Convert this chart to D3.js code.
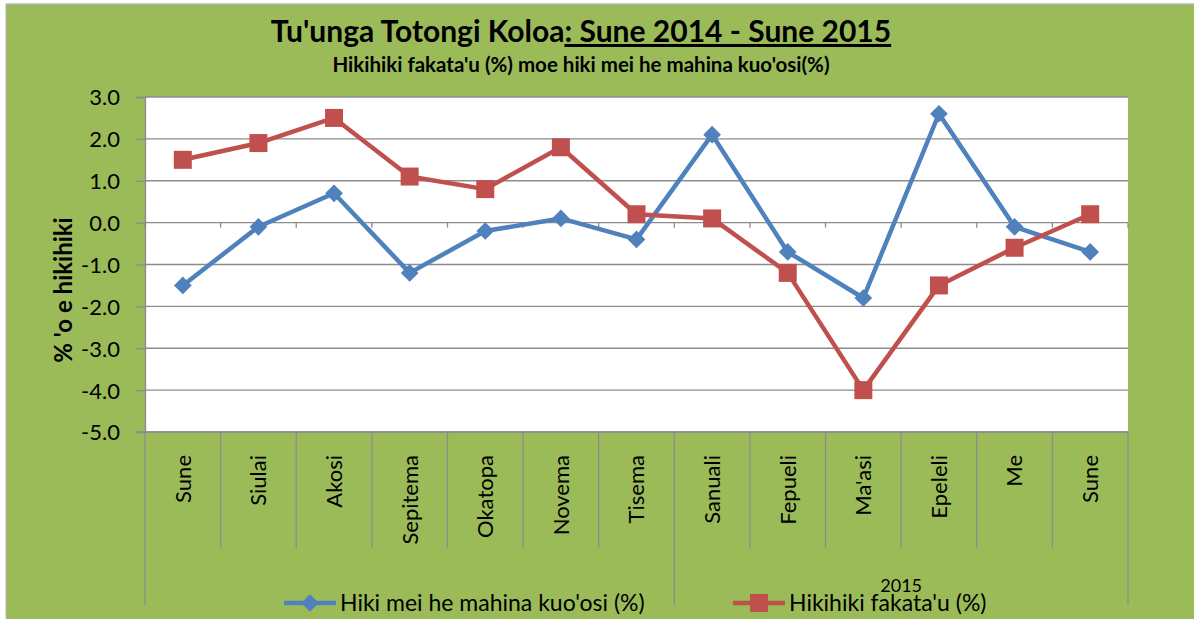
<!DOCTYPE html>
<html>
<head>
<meta charset="utf-8">
<script src="https://d3js.org/d3.v7.min.js"></script>
<style>
  body { margin: 0; background: #fff; }
  text { font-family: Lato, "Open Sans", sans-serif; fill: #000; }
</style>
</head>
<body>
<svg id="chart" width="1194" height="619"></svg>
<script>
const months = ["Sune", "Siulai", "Akosi", "Sepitema", "Okatopa", "Novema", "Tisema",
                "Sanuali", "Fepueli", "Ma'asi", "Epeleli", "Me", "Sune"];
const yearGroups = [{ label: "", start: 0, end: 7 }, { label: "2015", start: 7, end: 13 }];
const monthlyChange = [-1.5, -0.1, 0.7, -1.2, -0.2, 0.1, -0.4, 2.1, -0.7, -1.8, 2.6, -0.1, -0.7];
const annualInflation = [1.5, 1.9, 2.5, 1.1, 0.8, 1.8, 0.2, 0.1, -1.2, -4.0, -1.5, -0.6, 0.2];
const yTicks = [3, 2, 1, 0, -1, -2, -3, -4, -5];

const seriesNames = ["Hiki mei he mahina kuo'osi (%)", "Hikihiki fakata'u (%)"];
const colors = ["#4F81BD", "#C0504D"];

const width = 1194, height = 619;
const plot = { left: 145, right: 1128, top: 97, bottom: 432 };

const svg = d3.select("#chart");

// background
svg.append("rect").attr("x", 6).attr("y", 4).attr("width", width - 6).attr("height", height - 4)
  .attr("fill", "#9BBB59");
svg.append("line").attr("x1", 6).attr("x2", width).attr("y1", 4).attr("y2", 4)
  .attr("stroke", "#b8b8b8").attr("stroke-width", 1.5);
svg.append("line").attr("x1", 6).attr("x2", 6).attr("y1", 4).attr("y2", height)
  .attr("stroke", "#b8b8b8").attr("stroke-width", 1);

svg.append("rect").attr("x", plot.left).attr("y", plot.top)
  .attr("width", plot.right - plot.left).attr("height", plot.bottom - plot.top).attr("fill", "#fff");

const x = d3.scaleBand().domain(d3.range(months.length)).range([plot.left, plot.right]);
const y = d3.scaleLinear().domain([-5, 3]).range([plot.bottom, plot.top]);

// gridlines
svg.append("g").selectAll("line").data(yTicks).join("line")
  .attr("x1", plot.left).attr("x2", plot.right)
  .attr("y1", d => y(d)).attr("y2", d => y(d))
  .attr("stroke", "#8c8c8c").attr("stroke-width", 1.3);

// y axis
const yAxis = svg.append("g").attr("transform", `translate(${plot.left},0)`)
  .call(d3.axisLeft(y).tickValues(yTicks).tickSize(9).tickPadding(16));
yAxis.select(".domain").attr("stroke", "#8c8c8c").attr("stroke-width", 1.3);
yAxis.selectAll(".tick line").attr("stroke", "#8c8c8c").attr("stroke-width", 1.3);
yAxis.selectAll(".tick text").style("font-size", "22px").style("font-family", "Lato").attr("dy", "0.36em")
  .text(d => d.toFixed(1));

// small ticks on zero line
const bounds = d3.range(months.length + 1).map(i => plot.left + i * x.step());
svg.append("g").selectAll("line").data(bounds).join("line")
  .attr("x1", d => d).attr("x2", d => d).attr("y1", y(0)).attr("y2", y(0) + 5)
  .attr("stroke", "#8c8c8c").attr("stroke-width", 1.3);

// category axis below plot
svg.append("line").attr("x1", plot.left - 9).attr("x2", plot.right).attr("y1", plot.bottom).attr("y2", plot.bottom)
  .attr("stroke", "#8c8c8c").attr("stroke-width", 1.3);
svg.append("g").selectAll("line").data(bounds).join("line")
  .attr("x1", d => d).attr("x2", d => d).attr("y1", plot.bottom)
  .attr("y2", (d, i) => (i === 0 || i === months.length || yearGroups.some(g => g.start === i)) ? 605 : 548)
  .attr("stroke", "#8c8c8c").attr("stroke-width", 1.3);

svg.append("g").selectAll("text").data(months).join("text")
  .attr("transform", (d, i) => `translate(${x(i) + x.bandwidth() / 2},455) rotate(-90)`)
  .attr("text-anchor", "end").attr("dy", "0.36em").style("font-size", "22px").text(d => d);

svg.append("g").selectAll("text").data(yearGroups).join("text")
  .attr("x", d => (x(d.start) + plot.left + d.end * x.step()) / 2)
  .attr("y", 592).attr("text-anchor", "middle").style("font-size", "18px").text(d => d.label);

// lines
const line = d3.line().x((d, i) => x(i) + x.bandwidth() / 2).y(d => y(d));
[monthlyChange, annualInflation].forEach((data, s) => {
  svg.append("path").datum(data).attr("d", line).attr("fill", "none")
    .attr("stroke", colors[s]).attr("stroke-width", 4.5).attr("stroke-linejoin", "round");
});

// markers
const diamond = d3.symbol().type(d3.symbolDiamond2).size(200);
svg.append("g").selectAll("path").data(monthlyChange).join("path")
  .attr("d", diamond)
  .attr("transform", (d, i) => `translate(${x(i) + x.bandwidth() / 2},${y(d)})`)
  .attr("fill", colors[0]);
svg.append("g").selectAll("rect").data(annualInflation).join("rect")
  .attr("x", (d, i) => x(i) + x.bandwidth() / 2 - 9).attr("y", d => y(d) - 9)
  .attr("width", 18).attr("height", 18).attr("fill", colors[1]);

// titles
const title = svg.append("text").attr("x", 581).attr("y", 42).attr("text-anchor", "middle")
  .style("font-size", "30px").style("font-weight", "bold");
title.append("tspan").text("Tu'unga Totongi Koloa");
title.append("tspan").style("text-decoration", "underline")
  .text(": Sune 2014 - Sune 2015");

svg.append("text").attr("x", 581).attr("y", 72).attr("text-anchor", "middle")
  .style("font-size", "20.5px").style("font-weight", "bold")
  .text("Hikihiki fakata'u (%) moe hiki mei he mahina kuo'osi(%)");

svg.append("text").attr("transform", "translate(72,290) rotate(-90)").attr("text-anchor", "middle")
  .style("font-size", "24px").style("font-weight", "bold").text("% 'o e hikihiki");

// legend
const legendItems = [{ x: 284, textX: 340 }, { x: 733, textX: 789 }];
legendItems.forEach((it, s) => {
  const g = svg.append("g");
  g.append("line").attr("x1", it.x).attr("x2", it.x + 52).attr("y1", 603).attr("y2", 603)
    .attr("stroke", colors[s]).attr("stroke-width", 4.5);
  if (s === 0) {
    g.append("path").attr("d", diamond).attr("transform", `translate(${it.x + 26},603)`).attr("fill", colors[0]);
  } else {
    g.append("rect").attr("x", it.x + 17).attr("y", 594).attr("width", 18).attr("height", 18).attr("fill", colors[1]);
  }
  g.append("text").attr("x", it.textX).attr("y", 611)
    .style("font-size", "23px").text(seriesNames[s]);
});
</script>
</body>
</html>
